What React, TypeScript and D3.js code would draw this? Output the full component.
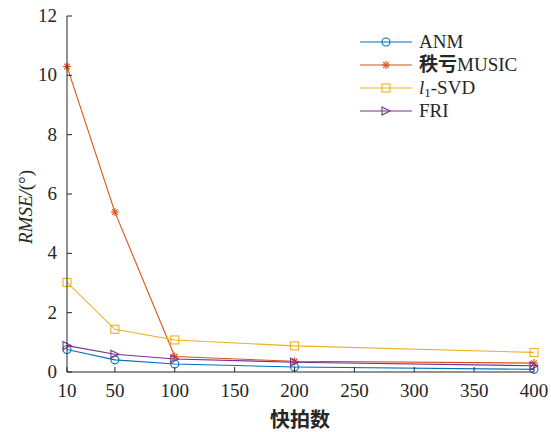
import React from "react";
import * as d3 from "d3";

const snapshots = [10, 50, 100, 200, 400];
const anm = [0.76, 0.41, 0.27, 0.17, 0.09];
const music = [10.3, 5.39, 0.52, 0.36, 0.3];
const l1svd = [3.02, 1.44, 1.08, 0.88, 0.66];
const fri = [0.89, 0.6, 0.44, 0.33, 0.21];
const xTicks = [10, 50, 100, 150, 200, 250, 300, 350, 400];
const yTicks = [0, 2, 4, 6, 8, 10, 12];

const series = [
  { key: "ANM", values: anm, color: "#0072BD", marker: "circle" },
  { key: "MUSIC", values: music, color: "#D95319", marker: "star" },
  { key: "SVD", values: l1svd, color: "#EDB120", marker: "square" },
  { key: "FRI", values: fri, color: "#7E2F8E", marker: "triangle" },
];

const W = 551, H = 432;
const M = { left: 67, right: 534, top: 16, bottom: 372 };
const serif = "'Liberation Serif', 'Times New Roman', serif";
const cjk = "'Noto Sans CJK SC', sans-serif";
const axisColor = "#262626";
const FS = 19;

function Marker({ type, x, y, color }: { type: string; x: number; y: number; color: string }) {
  const s = 4;
  if (type === "circle") return <circle cx={x} cy={y} r={s} fill="none" stroke={color} strokeWidth={1.1} />;
  if (type === "square") return <rect x={x - s} y={y - s} width={2 * s} height={2 * s} fill="none" stroke={color} strokeWidth={1.1} />;
  if (type === "triangle") return <path d={`M${x - s},${y - s}L${x + s},${y}L${x - s},${y + s}Z`} fill="none" stroke={color} strokeWidth={1.1} />;
  const lines = [] as JSX.Element[];
  for (let i = 0; i < 4; i++) {
    const a = (i * Math.PI) / 4;
    lines.push(<line key={i} x1={x - s * Math.cos(a)} y1={y - s * Math.sin(a)} x2={x + s * Math.cos(a)} y2={y + s * Math.sin(a)} stroke={color} strokeWidth={1.1} />);
  }
  return <g>{lines}</g>;
}

export default function App() {
  const x = d3.scaleLinear().domain([10, 400]).range([M.left, M.right]);
  const y = d3.scaleLinear().domain([0, 12]).range([M.bottom, M.top]);
  const line = d3.line<number>().x((_, i) => x(snapshots[i])).y((d) => y(d));

  const legendX = 360, legendY0 = 42, legendDy = 23;

  return (
    <svg width={W} height={H} style={{ position: "absolute", left: 0, top: 0, background: "#fff" }}>
      {series.map((s) => (
        <g key={s.key}>
          <path d={line(s.values) || ""} fill="none" stroke={s.color} strokeWidth={1.1} />
          {s.values.map((v, i) => (
            <Marker key={i} type={s.marker} x={x(snapshots[i])} y={y(v)} color={s.color} />
          ))}
        </g>
      ))}
      <line x1={M.left} x2={M.right} y1={M.bottom} y2={M.bottom} stroke={axisColor} strokeWidth={1} />
      <line x1={M.left} x2={M.left} y1={M.top} y2={M.bottom} stroke={axisColor} strokeWidth={1} />
      {xTicks.map((t) => (
        <g key={t}>
          <line x1={x(t)} x2={x(t)} y1={M.bottom} y2={M.bottom - 5} stroke={axisColor} />
          <text x={x(t)} y={M.bottom + 25} textAnchor="middle" fontFamily={serif} fontSize={FS} fill={axisColor}>{t}</text>
        </g>
      ))}
      {yTicks.map((t) => (
        <g key={t}>
          <line x1={M.left} x2={M.left + 5} y1={y(t)} y2={y(t)} stroke={axisColor} />
          <text x={M.left - 10} y={y(t) + 6} textAnchor="end" fontFamily={serif} fontSize={FS} fill={axisColor}>{t}</text>
        </g>
      ))}
      <text x={300} y={427} textAnchor="middle" fontFamily={cjk} fontWeight="bold" fontSize={20} fill={axisColor}>快拍数</text>
      <text transform={`translate(32,207) rotate(-90)`} textAnchor="middle" fontFamily={serif} fontSize={FS} fill={axisColor}>
        <tspan fontStyle="italic">RMSE/</tspan><tspan>(°)</tspan>
      </text>
      {series.map((s, i) => {
        const ly = legendY0 + i * legendDy;
        return (
          <g key={s.key}>
            <line x1={legendX} x2={legendX + 52} y1={ly} y2={ly} stroke={s.color} strokeWidth={1.1} />
            <Marker type={s.marker} x={legendX + 26} y={ly} color={s.color} />
            <text x={legendX + 59} y={ly + 6} fontFamily={serif} fontSize={FS} fill={axisColor}>
              {s.key === "ANM" && "ANM"}
              {s.key === "MUSIC" && (<><tspan fontFamily={cjk} fontWeight="bold" fontSize={19}>秩亏</tspan><tspan>MUSIC</tspan></>)}
              {s.key === "SVD" && (<><tspan fontStyle="italic">l</tspan><tspan fontSize={13} dy={3}>1</tspan><tspan dy={-3}>-SVD</tspan></>)}
              {s.key === "FRI" && "FRI"}
            </text>
          </g>
        );
      })}
    </svg>
  );
}
